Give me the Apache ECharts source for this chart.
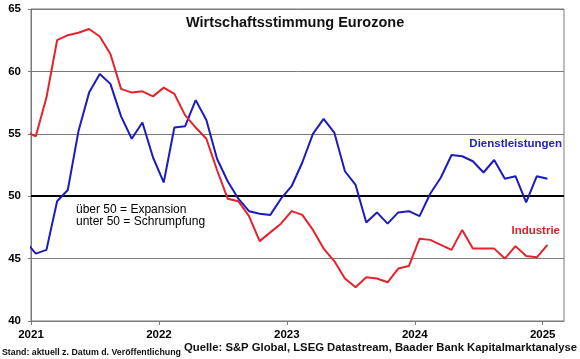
<!DOCTYPE html>
<html>
<head>
<meta charset="utf-8">
<script src="https://cdn.jsdelivr.net/npm/echarts@6/dist/echarts.min.js"></script>
<style>
html,body{margin:0;padding:0;background:#fff;}
#chart{width:580px;height:359px;}
</style>
</head>
<body>
<div id="chart"></div>
<script>
// Monthly observations (Dec 2020 - Jan 2025)
const months = [
  '2020-12',
  '2021-01','2021-02','2021-03','2021-04','2021-05','2021-06','2021-07','2021-08','2021-09','2021-10','2021-11','2021-12',
  '2022-01','2022-02','2022-03','2022-04','2022-05','2022-06','2022-07','2022-08','2022-09','2022-10','2022-11','2022-12',
  '2023-01','2023-02','2023-03','2023-04','2023-05','2023-06','2023-07','2023-08','2023-09','2023-10','2023-11','2023-12',
  '2024-01','2024-02','2024-03','2024-04','2024-05','2024-06','2024-07','2024-08','2024-09','2024-10','2024-11','2024-12',
  '2025-01'
];
const dienstleistungen = [
  46.4,
  45.4,45.7,49.6,50.5,55.2,58.3,59.8,59.0,56.4,54.6,55.9,53.1,
  51.1,55.5,55.6,57.7,56.1,53.0,51.2,49.8,48.8,48.6,48.5,49.8,
  50.8,52.7,55.0,56.2,55.1,52.0,50.9,47.9,48.7,47.8,48.7,48.8,
  48.4,50.2,51.5,53.3,53.2,52.8,51.9,52.9,51.4,51.6,49.5,51.6,
  51.4
];
const industrie = [
  55.2,
  54.8,57.9,62.5,62.9,63.1,63.4,62.8,61.4,58.6,58.3,58.4,58.0,
  58.7,58.2,56.5,55.5,54.6,52.1,49.8,49.6,48.4,46.4,47.1,47.8,
  48.8,48.5,47.3,45.8,44.8,43.4,42.7,43.5,43.4,43.1,44.2,44.4,
  46.6,46.5,46.1,45.7,47.3,45.8,45.8,45.8,45.0,46.0,45.2,45.1,
  46.1
];
const yearTicks = ['2021','2022','2023','2024','2025'];
const yTicks = [40,45,50,55,60,65];
const threshold = 50;

const FONT = '"Liberation Sans", Arial, sans-serif';
// month string -> decimal year at mid-month
function monthToX(m){
  const p = m.split('-').map(Number);
  return p[0] + (p[1] - 0.55) / 12;
}
const blueData = months.map((m,i)=>[monthToX(m), dienstleistungen[i]]);
const redData = months.map((m,i)=>[monthToX(m), industrie[i]]);

const chart = echarts.init(document.getElementById('chart'), null, {renderer:'canvas'});
chart.setOption({
  animation:false,
  backgroundColor:'#ffffff',
  grid:{left:31,right:16,top:9,bottom:38,show:true,borderColor:'#7a7a7a',borderWidth:1},
  xAxis:{
    type:'value',
    min:Number(yearTicks[0]),
    max:Number(yearTicks[yearTicks.length-1]) + 2/12,
    interval:1,
    axisLine:{show:true,lineStyle:{color:'#7a7a7a',width:1}},
    axisTick:{show:true,length:4,lineStyle:{color:'#7a7a7a'}},
    splitLine:{show:false},
    axisLabel:{
      color:'#000',fontFamily:FONT,fontWeight:'bold',fontSize:11.5,margin:8,
      showMaxLabel:false,
      formatter:v=>yearTicks.includes(String(v))?String(v):''
    }
  },
  yAxis:{
    type:'value',
    min:yTicks[0],max:yTicks[yTicks.length-1],interval:5,
    axisLine:{show:true,lineStyle:{color:'#7a7a7a',width:1}},
    axisTick:{show:true,length:3,lineStyle:{color:'#7a7a7a'}},
    splitLine:{show:true,lineStyle:{color:'#7a7a7a',width:1}},
    axisLabel:{color:'#000',fontFamily:FONT,fontWeight:'bold',fontSize:11.5,margin:10}
  },
  series:[
    {
      name:'Dienstleistungen',type:'line',data:blueData,
      symbol:'none',smooth:false,clip:true,
      lineStyle:{color:'#1c1cbc',width:2},itemStyle:{color:'#1c1cbc'},
      z:3
    },
    {
      name:'Industrie',type:'line',data:redData,
      symbol:'none',smooth:false,clip:true,
      lineStyle:{color:'#e5222b',width:2},itemStyle:{color:'#e5222b'},
      z:3,
      markLine:{
        silent:true,symbol:['none','none'],
        label:{show:false},
        lineStyle:{color:'#000',width:2,type:'solid'},
        data:[{yAxis:threshold}],
        z:2
      }
    }
  ],
  graphic:[
    {type:'text',left:186,top:15,style:{text:'Wirtschaftsstimmung Eurozone',font:'bold 14.5px '+FONT,fill:'#111'}},
    {type:'text',right:18,top:138,style:{text:'Dienstleistungen',font:'bold 11.5px '+FONT,fill:'#2222c0'}},
    {type:'text',right:20,top:225,style:{text:'Industrie',font:'bold 11.5px '+FONT,fill:'#d8222a'}},
    {type:'text',left:76,top:203,style:{text:'über 50 = Expansion\nunter 50 = Schrumpfung',font:'12px '+FONT,fill:'#000',lineHeight:12.5}},
    {type:'text',left:2,top:348,style:{text:'Stand: aktuell z. Datum d. Veröffentlichung',font:'bold 8.8px '+FONT,fill:'#111'}},
    {type:'text',right:3,top:342,style:{text:'Quelle: S&P Global, LSEG Datastream, Baader Bank Kapitalmarktanalyse',font:'bold 11.3px '+FONT,fill:'#111'}}
  ]
});
</script>
</body>
</html>
